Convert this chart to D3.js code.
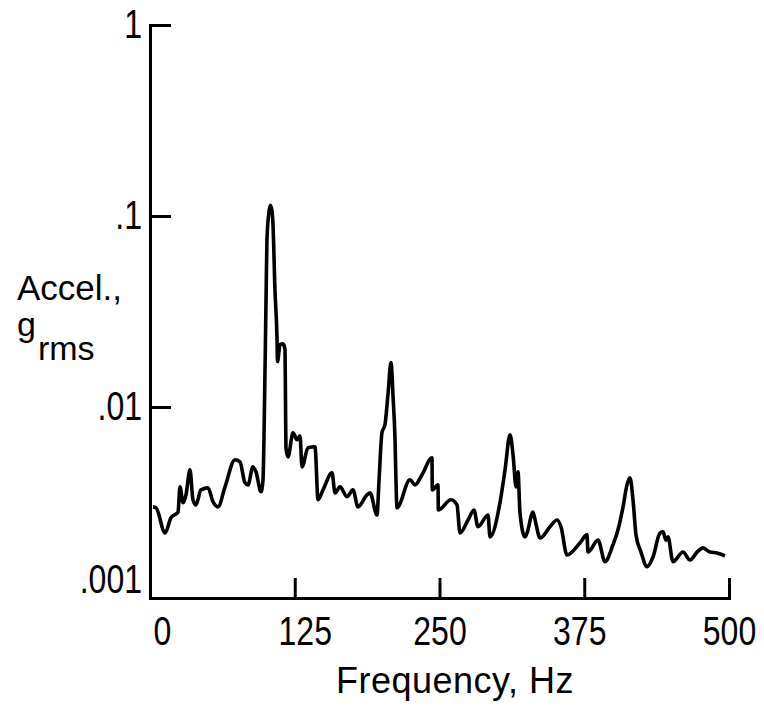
<!DOCTYPE html>
<html lang="en">
<head>
  <meta charset="utf-8">
  <title>Acceleration spectrum</title>
  <script src="https://d3js.org/d3.v7.min.js"></script>
  <style>
    * { margin: 0; padding: 0; }
    html, body { width: 764px; height: 707px; background: #fff; overflow: hidden; }
    svg text { font-family: "Liberation Sans Narrow", "Liberation Sans", sans-serif; fill: #000; }
    .axis path, .axis line { stroke: #000; stroke-width: 3px; }
    .axis text { font-size: 40px; transform-box: fill-box; transform: scaleX(0.8); }
    .x-axis text { transform-origin: center; }
    .y-axis text { transform-origin: right center; }
  </style>
</head>
<body>
<svg id="chart" width="764" height="707"></svg>
<script>
// values (Hz, g rms)
const freq = [
  2.6, 5.2, 13, 18.1, 24.2, 25.9, 28.5, 31.1, 34.5, 37.1, 39.7, 44.0, 50.1, 54.4, 58.7,
  64.8, 73.4, 77.7, 82.0, 84.6, 88.9, 91.5, 95.9, 97.6, 98.4, 100.2, 101.0, 102.8, 104.0,
  105.4, 106.2, 107.9, 109.7, 110.1, 112.3, 114.9, 116.6, 117.0, 117.4, 119.2, 123.5,
  126.9, 129.5, 131.3, 136.4, 142.5, 145.1, 149.4, 157.2, 159.8, 164.1, 170.1, 175.3,
  179.6, 187.4, 190.0, 196.0, 197.8, 200.3, 202.9, 205.5, 208.1, 209.0, 209.8, 211.6,
  212.4, 213.3, 224.5, 228.8, 234.9, 243.5, 243.8, 248.7, 249.0, 259.9, 265.1, 267.7,
  274.6, 279.8, 283.2, 291.9, 293.6, 302.2, 306.6, 310.9, 313.5, 316.1, 317.8, 319.5,
  323.8, 325.6, 330.7, 333.3, 336.8, 345.4, 351.5, 354.9, 360.1, 371.3, 377.4, 378.2,
  386.9, 392.9, 399.8, 404.1, 408.5, 411.9, 414.5, 417.1, 419.7, 424.0, 429.2, 434.4,
  440.4, 443.0, 445.6, 447.3, 451.6, 460.3, 466.3, 472.4, 477.5, 483.6, 489.6, 496.5
];
const accel = [
  0.0030, 0.00297, 0.00219, 0.00263, 0.00282, 0.00382, 0.00315, 0.00347, 0.00469, 0.00327,
  0.00307, 0.00368, 0.00377, 0.00319, 0.0030, 0.00382, 0.00529, 0.00516, 0.00401, 0.00391,
  0.00486, 0.00458, 0.00360, 0.00416, 0.00674, 0.0365, 0.0754, 0.1057, 0.1137, 0.1057,
  0.0904, 0.0412, 0.0225, 0.0173, 0.0212, 0.0214, 0.0200, 0.0109, 0.00612, 0.00548,
  0.00733, 0.00674, 0.00707, 0.00486, 0.00612, 0.00619, 0.00327, 0.00368, 0.00452, 0.00355,
  0.00382, 0.00339, 0.00368, 0.0030, 0.00347, 0.00355, 0.00272, 0.00416, 0.00733, 0.00808,
  0.0116, 0.0171, 0.0148, 0.0116, 0.00674, 0.00416, 0.00297, 0.00416, 0.00391, 0.00442,
  0.00542, 0.00368, 0.00391, 0.00289, 0.00327, 0.00307, 0.00219, 0.00256, 0.00289, 0.00236,
  0.00272, 0.00209, 0.00315, 0.00469, 0.00716, 0.00562, 0.00382, 0.00458, 0.00279, 0.00209,
  0.00219, 0.00282, 0.00244, 0.00206, 0.00236, 0.00256, 0.00236, 0.00168, 0.00194, 0.00214,
  0.00174, 0.00201, 0.00155, 0.00190, 0.00227, 0.0030, 0.00391, 0.00426, 0.00327, 0.00214,
  0.00174, 0.00146, 0.00164, 0.00219, 0.00222, 0.00201, 0.00209, 0.00155, 0.00174, 0.00158,
  0.00174, 0.00183, 0.00174, 0.00172, 0.00166
];
const xTicks = [0, 125, 250, 375, 500];
const yTicks = [1, 0.1, 0.01, 0.001];
const yTickLabels = ["1", ".1", ".01", ".001"];

const svg = d3.select("#chart");

const x = d3.scaleLinear().domain([0, 500]).range([150, 729]);
const y = d3.scaleLog().domain([0.001, 1]).range([598, 25]);

// y axis, ticks pointing inwards
const yAxis = svg.append("g")
  .attr("class", "axis y-axis")
  .attr("transform", `translate(${x(0)},0)`)
  .call(d3.axisLeft(y)
    .tickValues(yTicks)
    .tickSizeInner(-21)
    .tickSizeOuter(0)
    .tickPadding(8)
    .tickFormat((d, i) => yTickLabels[i]));
yAxis.selectAll(".tick text").attr("dy", (d) => d === 0.001 ? "-0.15em" : "0.3em");
yAxis.selectAll(".tick").filter(d => d === 0.001).select("line").remove();

// x axis, ticks pointing up
const xAxis = svg.append("g")
  .attr("class", "axis x-axis")
  .attr("transform", `translate(0,${y(0.001)})`)
  .call(d3.axisBottom(x)
    .tickValues(xTicks)
    .tickSizeInner(-20)
    .tickSizeOuter(0)
    .tickPadding(12)
    .tickFormat(d3.format("d")));
xAxis.selectAll(".tick text").attr("dy", "0.88em")
  .attr("dx", d => d === 0 ? 12 : d === 125 ? 10 : d === 375 ? -5 : 0);
xAxis.selectAll(".tick").filter(d => d === 0).select("line").remove();
svg.selectAll(".axis .domain").attr("stroke-linecap", "square");

// spectrum trace
const line = d3.line()
  .x((d, i) => x(freq[i]))
  .y(d => y(d))
  .curve(d3.curveMonotoneX);

svg.append("path")
  .datum(accel)
  .attr("d", line)
  .attr("fill", "none")
  .attr("stroke", "#000")
  .attr("stroke-width", 3.6)
  .attr("stroke-linejoin", "round");

// axis titles
svg.append("text")
  .attr("x", 17).attr("y", 300)
  .style("font-size", "35px")
  .text("Accel.,");
const g = svg.append("text")
  .attr("x", 17).attr("y", 336)
  .style("font-size", "34px");
g.append("tspan").text("g");
g.append("tspan").attr("dy", 24).attr("dx", 2).text("rms");

svg.append("text")
  .attr("x", 455).attr("y", 693)
  .attr("text-anchor", "middle")
  .style("font-size", "36px")
  .style("letter-spacing", "0.5px")
  .text("Frequency, Hz");
</script>
</body>
</html>
